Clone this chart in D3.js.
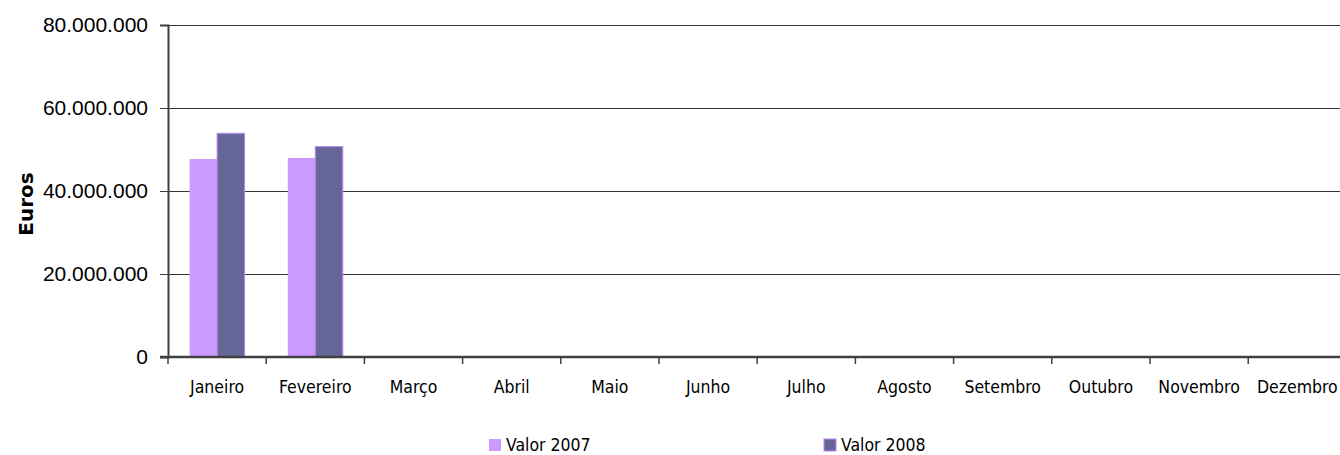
<!DOCTYPE html>
<html>
<head>
<meta charset="utf-8">
<script src="https://cdn.jsdelivr.net/npm/d3@7"></script>
<style>
  body { margin: 0; background: #fff; }
  svg { display: block; }
</style>
</head>
<body>
<div id="chart"></div>
<script>
// chart data
const months = ['Janeiro', 'Fevereiro', 'Março', 'Abril', 'Maio', 'Junho',
  'Julho', 'Agosto', 'Setembro', 'Outubro', 'Novembro', 'Dezembro'];
const valor2007 = [47700000, 47950000, null, null, null, null, null, null, null, null, null, null];
const valor2008 = [53900000, 50700000, null, null, null, null, null, null, null, null, null, null];
const seriesNames = ['Valor 2007', 'Valor 2008'];
const yTicks = [0, 20000000, 40000000, 60000000, 80000000];

const colors = ['#CC99FF', '#666699'];
const width = 1340;
const height = 455;
const margin = { top: 25, left: 168, bottom: 98 };
const step = 98.2;

const svg = d3.select('#chart')
  .append('svg')
  .attr('width', width)
  .attr('height', height);

const x = d3.scaleBand()
  .domain(months)
  .range([margin.left, margin.left + step * months.length]);

// two bars in the middle of each category
const x1 = d3.scaleBand()
  .domain(seriesNames)
  .range([21.6, step - 21.6]);

const y = d3.scaleLinear()
  .domain([0, 80000000])
  .range([height - margin.bottom, margin.top]);

const fmt = (d) => d3.format(',')(d).replace(/,/g, '.');

// gridlines
svg.append('g')
  .selectAll('line')
  .data(yTicks.slice(1))
  .enter()
  .append('line')
  .attr('x1', margin.left)
  .attr('x2', width)
  .attr('y1', (d) => y(d))
  .attr('y2', (d) => y(d))
  .attr('stroke', '#333')
  .attr('stroke-width', 1)
  .attr('shape-rendering', 'crispEdges');

// y axis
const yAxis = svg.append('g')
  .attr('transform', 'translate(' + margin.left + ',0)')
  .call(d3.axisLeft(y).tickValues(yTicks).tickFormat(fmt).tickSize(8).tickPadding(12));
yAxis.select('.domain').attr('stroke', '#404040').attr('stroke-width', 2);
yAxis.selectAll('.tick line').attr('stroke', '#404040');
yAxis.selectAll('text')
  .style('font-family', 'Liberation Sans, Arial, sans-serif')
  .style('font-size', '21px')
  .attr('fill', '#000');

// bars
const series = [valor2007, valor2008];
series.forEach((vals, s) => {
  svg.append('g')
    .selectAll('rect')
    .data(months.map((m, i) => ({ m: m, v: vals[i] })).filter((d) => d.v != null))
    .enter()
    .append('rect')
    .attr('x', (d) => x(d.m) + x1(seriesNames[s]))
    .attr('width', x1.bandwidth())
    .attr('y', (d) => y(d.v))
    .attr('height', (d) => y(0) - y(d.v))
    .attr('fill', colors[s])
    .attr('stroke', s === 1 ? '#BB88EE' : 'none')
    .attr('stroke-width', 1);
});

// x axis
const xAxisG = svg.append('g')
  .attr('transform', 'translate(0,' + y(0) + ')');
xAxisG.append('line')
  .attr('x1', margin.left - 8)
  .attr('x2', width)
  .attr('stroke', '#404040')
  .attr('stroke-width', 2.5);
xAxisG.selectAll('.tk')
  .data(months)
  .enter()
  .append('line')
  .attr('class', 'tk')
  .attr('x1', (d) => x(d))
  .attr('x2', (d) => x(d))
  .attr('y1', 0)
  .attr('y2', 7)
  .attr('stroke', '#404040')
  .attr('stroke-width', 1.5);
xAxisG.selectAll('text')
  .data(months)
  .enter()
  .append('text')
  .attr('x', (d) => x(d) + x.bandwidth() / 2)
  .attr('y', 36)
  .attr('text-anchor', 'middle')
  .text((d) => d)
  .style('font-family', 'DejaVu Sans Condensed, DejaVu Sans, sans-serif')
  .style('font-size', '17.5px');

// y title
svg.append('text')
  .attr('transform', 'translate(33,204) rotate(-90)')
  .attr('text-anchor', 'middle')
  .text('Euros')
  .style('font-family', 'DejaVu Sans, sans-serif')
  .style('font-weight', 'bold')
  .style('font-size', '20px');

// legend
const legendX = [489, 824];
const legend = svg.append('g')
  .selectAll('g')
  .data(seriesNames)
  .enter()
  .append('g')
  .attr('transform', (d, i) => 'translate(' + legendX[i] + ',439)');
legend.append('rect')
  .attr('width', 12)
  .attr('height', 12)
  .attr('fill', (d, i) => colors[i])
  .attr('stroke', (d, i) => i === 1 ? '#BB88EE' : 'none');
legend.append('text')
  .attr('x', 17)
  .attr('y', 12)
  .text((d) => d)
  .style('font-family', 'DejaVu Sans Condensed, DejaVu Sans, sans-serif')
  .style('font-size', '17.5px');
</script>
</body>
</html>
